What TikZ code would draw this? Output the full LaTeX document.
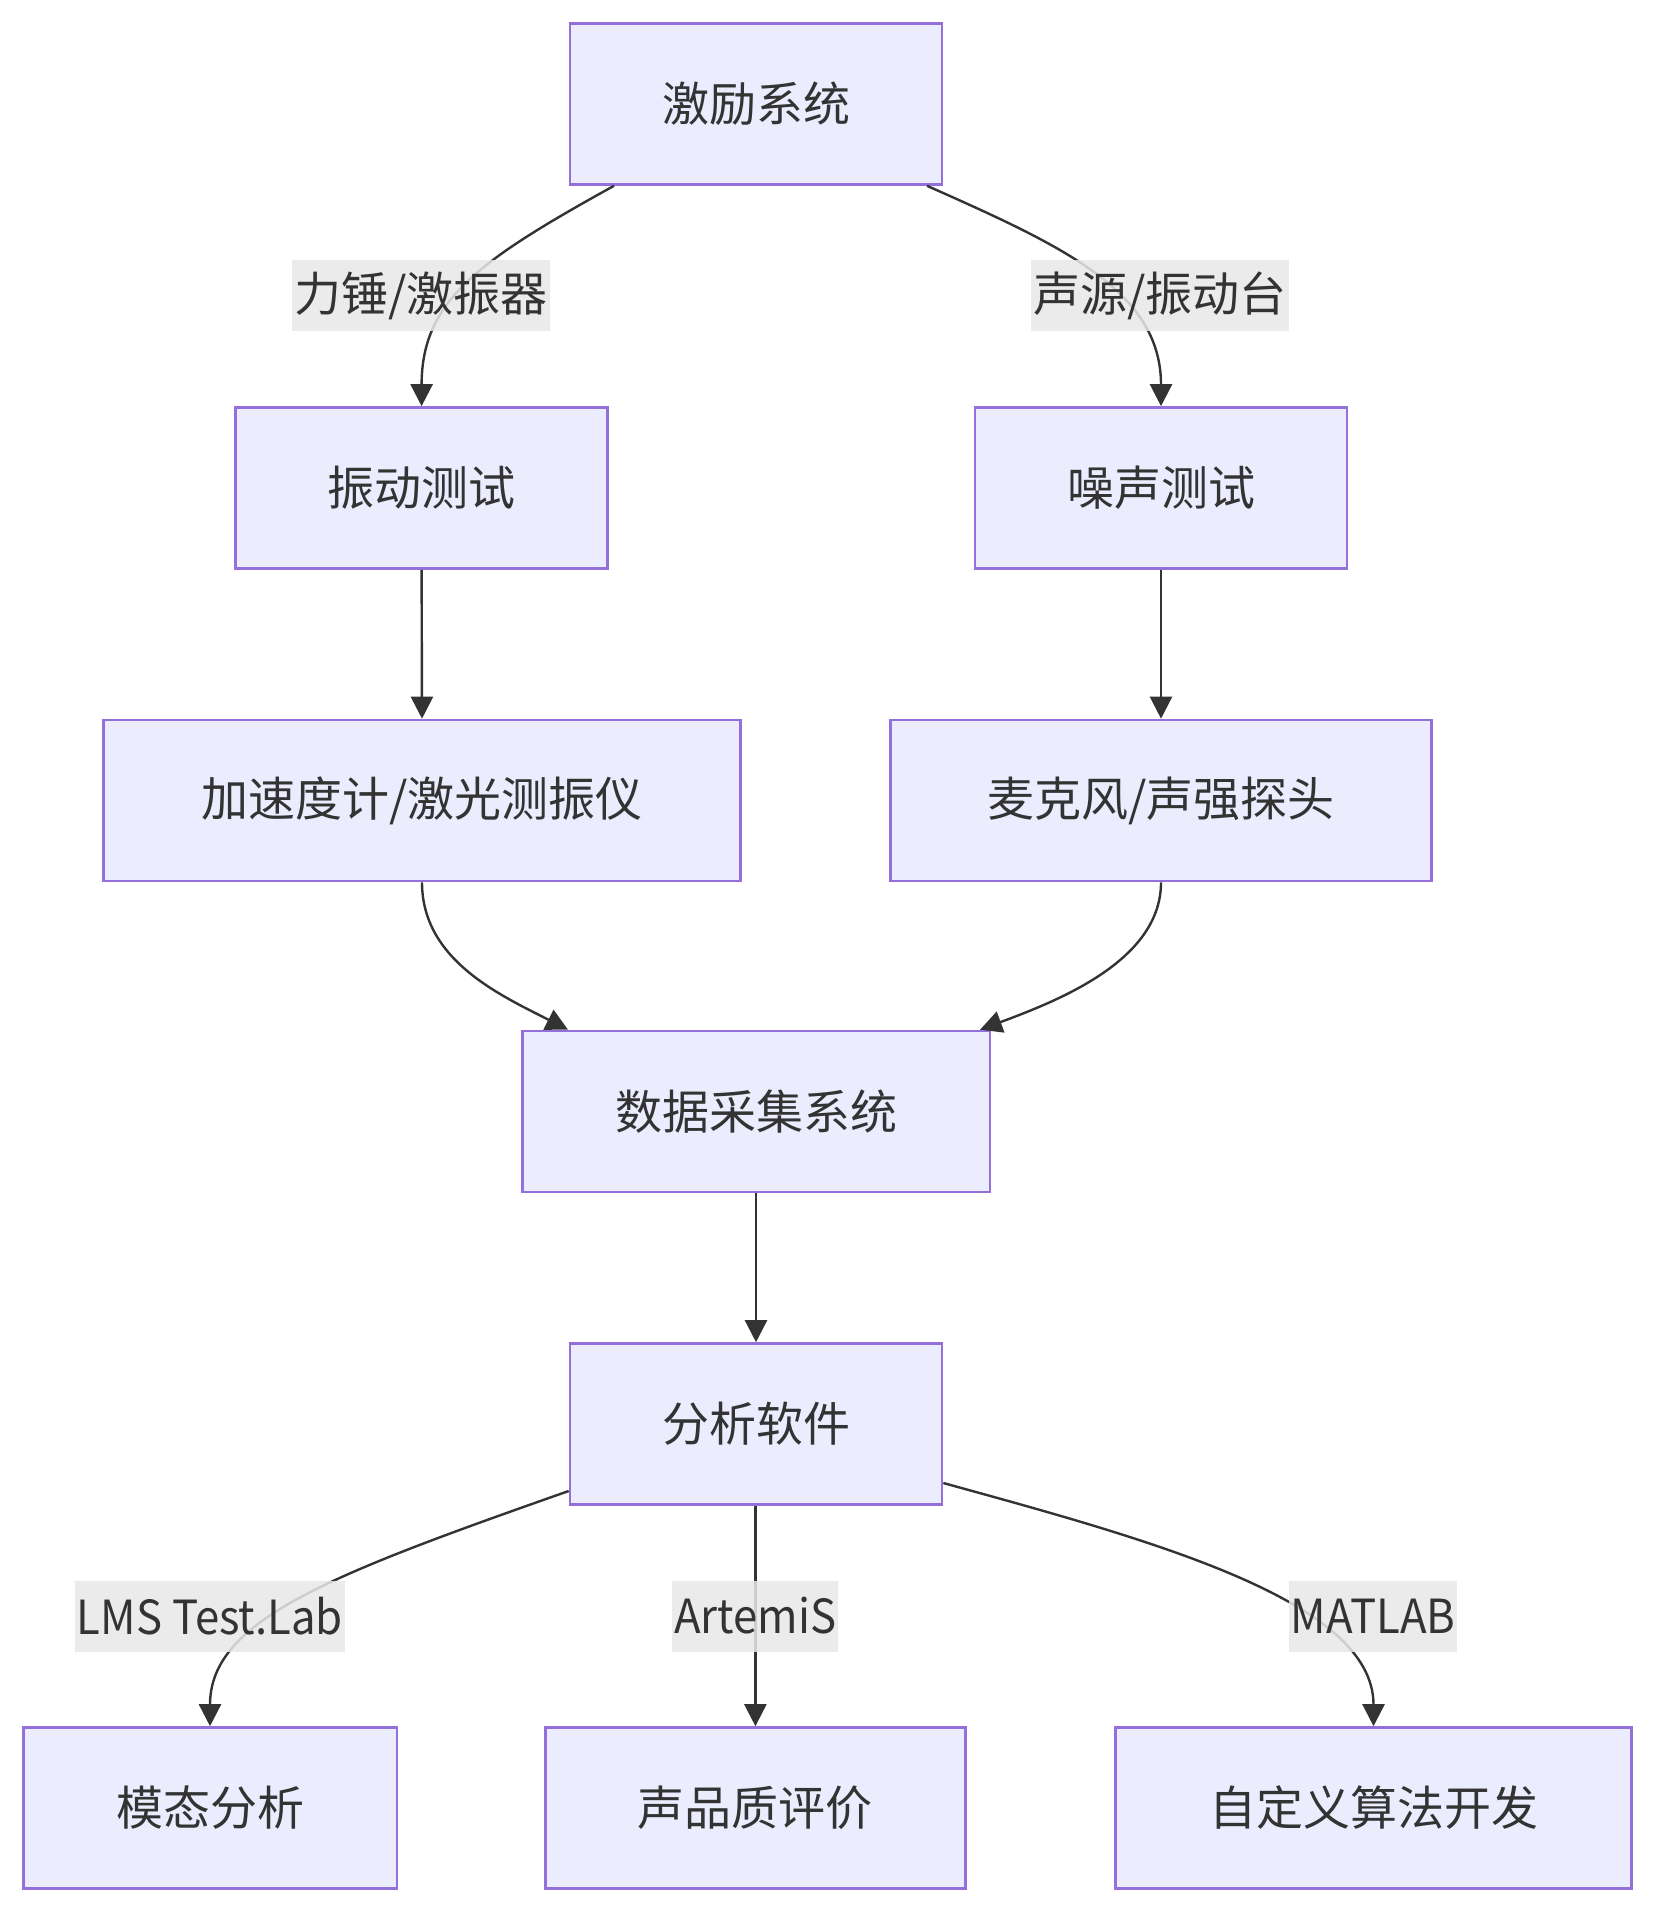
\documentclass[tikz,border=0pt]{standalone}
\usepackage{fontspec}
\setmainfont{Noto Sans CJK SC}
\newfontfamily\latinlab[FakeStretch=0.93]{Noto Sans CJK SC}
\usetikzlibrary{arrows.meta,calc}
\definecolor{nodefill}{HTML}{ECECFF}
\definecolor{nodeline}{HTML}{9370DB}
\definecolor{edgecol}{HTML}{333333}
\definecolor{labelbg}{HTML}{E8E8E8}
\tikzset{
  box/.style={draw=nodeline, fill=nodefill, line width=1.3pt, inner sep=0pt,
    minimum height=80.5pt, text=edgecol, font=\fontsize{23.5}{28}\selectfont},
  conn/.style={draw=edgecol, line width=1.2pt, -{Triangle[length=11pt,width=11pt]}},
  elabel/.style={fill=labelbg, fill opacity=0.85, text opacity=1, text=edgecol,
    inner xsep=1pt, inner ysep=0pt, minimum height=35.5pt,
    font=\fontsize{23.5}{28}\selectfont},
  latlabel/.style={elabel, font=\fontsize{23.5}{28}\latinlab}
}
\begin{document}
\begin{tikzpicture}[x=0.5pt,y=-0.5pt]
\useasboundingbox (0,0) rectangle (1656,1914);
\node[box, minimum width=186pt] (A) at (756,104) {激励系统};
\node[box, minimum width=186pt] (B) at (421.6,488) {振动测试};
\node[box, minimum width=186pt] (C) at (1161,488) {噪声测试};
\node[box, minimum width=318.5pt] (D) at (422,800.5) {加速度计/激光测振仪};
\node[box, minimum width=270.3pt] (E) at (1161,800.5) {麦克风/声强探头};
\node[box, minimum width=233.8pt] (F) at (756,1111.5) {数据采集系统};
\node[box, minimum width=186pt] (G) at (756,1424) {分析软件};
\node[box, minimum width=186.8pt] (H) at (210,1808) {模态分析};
\node[box, minimum width=210pt] (I) at (755.4,1808) {声品质评价};
\node[box, minimum width=258pt] (J) at (1373.5,1808) {自定义算法开发};

\draw[conn] ([xshift=-71pt]A.south) .. controls (480,260) and (421.6,300) .. (B.north);
\draw[conn] ([xshift=85.5pt]A.south) .. controls (1060,245) and (1161,290) .. (C.north);
\draw[conn] (B.south) -- (D.north);
\draw[conn] (C.south) -- (E.north);
\draw[conn] (D.south) .. controls (422,960) and (500,995) .. ([xshift=-94pt]F.north);
\draw[conn] (E.south) .. controls (1161,960) and (1060,1000) .. ([xshift=112pt]F.north);
\draw[conn] (F.south) -- (G.north);
\draw[conn] ([yshift=-33.5pt]G.west) .. controls (330,1575) and (210,1620) .. (H.north);
\draw[conn] ([xshift=-0.3pt]G.south) -- (I.north);
\draw[conn] ([yshift=-29.5pt]G.east) .. controls (1150,1540) and (1373.5,1600) .. (J.north);

\node[elabel] (l1) at (421,296) {力锤/激振器};
\node[elabel] (l2) at (1160,296) {声源/振动台};
\node[latlabel] (l3) at (210,1616) {LMS Test.Lab};
\node[latlabel] (l4) at (755.4,1616) {ArtemiS};
\node[latlabel] (l5) at (1373,1616) {MATLAB};
\end{tikzpicture}
\end{document}
